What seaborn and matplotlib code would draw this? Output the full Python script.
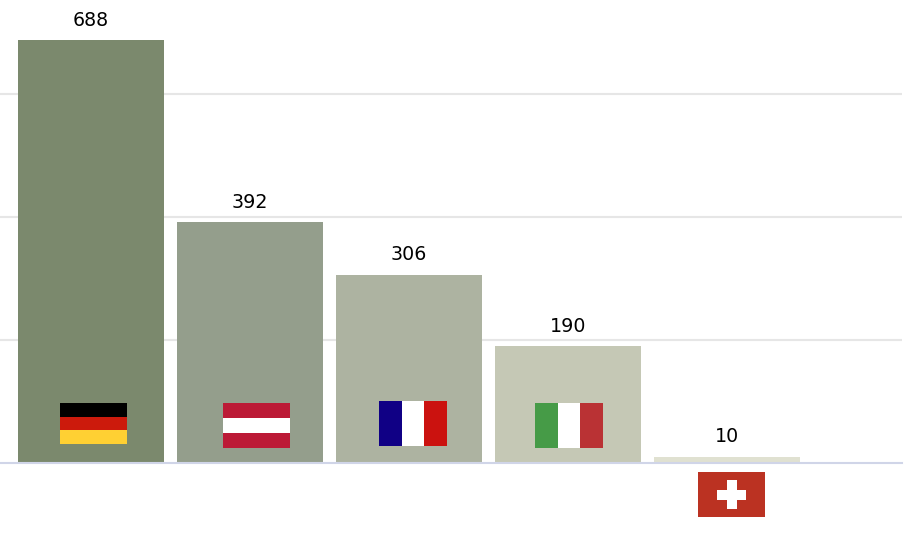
import pandas as pd
import matplotlib.pyplot as plt
from matplotlib.patches import Rectangle
import seaborn as sns

# values
countries = ['Germany', 'Austria', 'France', 'Italy', 'Switzerland']
values = [688, 392, 306, 190, 10]
bar_colors = ['#7b896d', '#949e8c', '#adb3a1', '#c5c8b5', '#e0e1d1']
grid_ticks = [200, 400, 600]

W, H = 911, 541
df = pd.DataFrame({'country': countries, 'value': values})

sns.set_style('white')
plt.rcParams['font.family'] = ['DejaVu Sans']

fig = plt.figure(figsize=(W / 100, H / 100), dpi=100)
ax = fig.add_axes([0, (H - 463) / H, 902 / W, 463 / H])

sns.barplot(data=df, x='country', y='value', hue='country', order=countries,
            hue_order=countries, palette=bar_colors, saturation=1, width=0.918,
            edgecolor='none', linewidth=0, legend=False, ax=ax, zorder=2)

# scale: 159 px per category, 423 px for 688
ax.set_xlim(-91 / 159, (902 - 91) / 159)
ax.set_ylim(0, 463 * 688 / 423)
ax.set_yticks(grid_ticks)
ax.set_xticks([])
ax.set_xlabel('')
ax.set_ylabel('')
ax.tick_params(left=False, bottom=False, labelleft=False)
ax.grid(axis='y', color='#e6e6e6', linewidth=1.5, zorder=0)
ax.set_axisbelow(True)

sns.despine(ax=ax, left=True, top=True, right=True)
ax.spines['bottom'].set_color('#d0d5e8')
ax.spines['bottom'].set_linewidth(1.5)
ax.spines['bottom'].set_zorder(5)

for cont in ax.containers:
    ax.bar_label(cont, fmt='%d', padding=7.5, fontsize=13.7, color='#000000')


# flags, boxes in image pixels (y down)
def flag_rect(x0, y0, x1, y1, color):
    fig.add_artist(Rectangle((x0 / W, 1 - y1 / H), (x1 - x0) / W, (y1 - y0) / H,
                             transform=fig.transFigure, facecolor=color,
                             edgecolor='none', zorder=10))


def h_stripes(x0, y0, x1, y1, colors):
    step = (y1 - y0) / len(colors)
    for i, c in enumerate(colors):
        flag_rect(x0, y0 + i * step, x1, y0 + (i + 1) * step, c)


def v_stripes(x0, y0, x1, y1, colors):
    step = (x1 - x0) / len(colors)
    for i, c in enumerate(colors):
        flag_rect(x0 + i * step, y0, x0 + (i + 1) * step, y1, c)


h_stripes(60, 403, 127, 444, ['#000000', '#cc1a0c', '#ffd033'])
h_stripes(223, 403, 290, 448, ['#bc1a36', '#ffffff', '#bc1a36'])
v_stripes(379, 401, 447, 446, ['#100085', '#ffffff', '#cb120f'])
v_stripes(535, 403, 603, 448, ['#469b47', '#ffffff', '#ba3234'])

# swiss flag
flag_rect(698, 472, 765, 517, '#bb3222')
flag_rect(717, 489.5, 746, 499.5, '#ffffff')
flag_rect(726.5, 480, 736.5, 509, '#ffffff')

plt.savefig('out.png', dpi=100)
